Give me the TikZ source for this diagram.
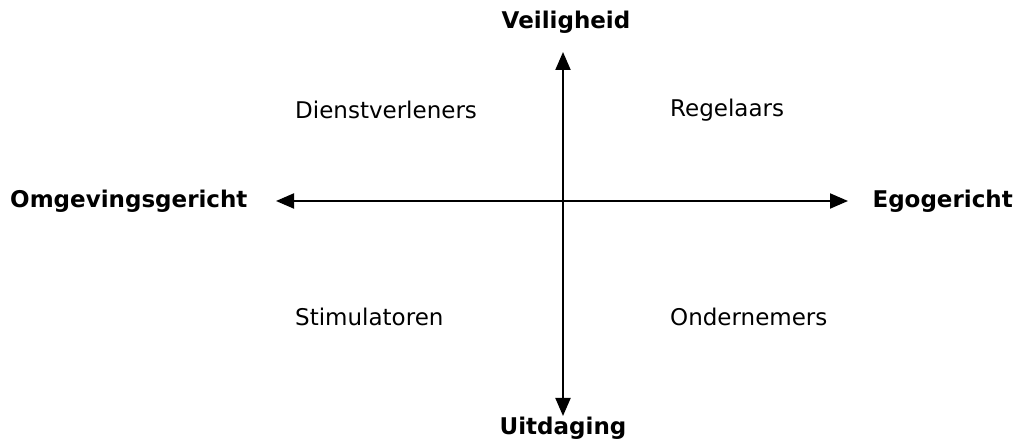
\documentclass[tikz,border=0pt]{standalone}
\usepackage{fontspec}
\setmainfont{DejaVu Sans}
\usetikzlibrary{arrows.meta}
\begin{document}
\begin{tikzpicture}[x=1pt,y=1pt,
  axis/.style={line width=2pt,{Triangle[length=18pt,width=15pt]}-{Triangle[length=18pt,width=15pt]}},
  axislabel/.style={font=\fontsize{23}{27}\selectfont\bfseries,inner sep=0pt},
  quad/.style={font=\fontsize{23}{27}\selectfont,inner sep=0pt,anchor=west}]
\useasboundingbox (0,0) rectangle (1019,446);
\coordinate (T) at (563,394);
\coordinate (B) at (563,30);
\coordinate (L) at (276,245);
\coordinate (R) at (848,245);
\draw[axis] (B) -- (T);
\draw[axis] (L) -- (R);
\node[axislabel] (v) at (566,424) {Veiligheid};
\node[axislabel] (u) at (563,18) {Uitdaging};
\node[axislabel,anchor=west] (o) at (10,245) {Omgevingsgericht};
\node[axislabel,anchor=east] (e) at (1013,245) {Egogericht};
\node[quad] (d) at (295,336) {Dienstverleners};
\node[quad] (r) at (670,336) {Regelaars};
\node[quad] (s) at (295,129) {Stimulatoren};
\node[quad] (n) at (670,129) {Ondernemers};
\end{tikzpicture}
\end{document}
